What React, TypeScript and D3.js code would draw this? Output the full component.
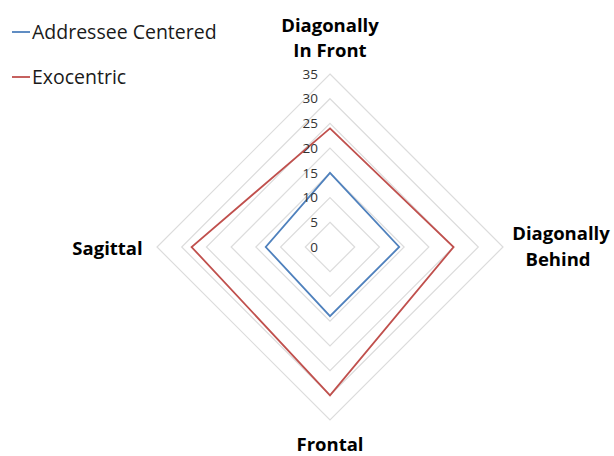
import React from "react";
import * as d3 from "d3";

const axes = ["Diagonally In Front", "Diagonally Behind", "Frontal", "Sagittal"];
const addresseeCentered = [15, 14, 14, 13];
const exocentric = [24, 25, 30, 28];
const ticks = [0, 5, 10, 15, 20, 25, 30, 35];
const seriesNames = ["Addressee Centered", "Exocentric"];
const seriesColors = ["#4f81bd", "#c0504d"];

const W = 614, H = 456;
const cx = 330, cy = 247, R = 173;
const font = "'Open Sans', sans-serif";

export default function App() {
  const r = d3.scaleLinear().domain([0, 35]).range([0, R]);
  const angle = d3.scaleLinear().domain([0, axes.length]).range([0, 2 * Math.PI]);
  const line = d3
    .lineRadial<number>()
    .angle((_, i) => angle(i))
    .radius((d) => r(d))
    .curve(d3.curveLinearClosed);
  const series = [addresseeCentered, exocentric];
  const ring = (v: number) => line(axes.map(() => v)) as string;

  return (
    <svg width={W} height={H} style={{ position: "absolute", left: 0, top: 0, background: "#fff" }}>
      <g transform={`translate(${cx},${cy})`}>
        {ticks.slice(1).map((t) => (
          <path key={t} d={ring(t)} fill="none" stroke="#dcdcdc" strokeWidth={1.2} />
        ))}
        {series.map((s, i) => (
          <path key={i} d={line(s) as string} fill="none" stroke={seriesColors[i]} strokeWidth={1.8} />
        ))}
        {ticks.map((t) => (
          <text key={t} x={-12} y={-r(t)} dy="0.35em" textAnchor="end" fontFamily={font} fontSize={13.5} fill="#333">
            {t}
          </text>
        ))}
      </g>
      <g fontFamily={font} fontWeight="bold" fontSize={18.5} fill="#000" textAnchor="middle">
        <text x={330} y={32}>Diagonally</text>
        <text x={330} y={57}>In Front</text>
        <text x={561} y={240}>Diagonally</text>
        <text x={558} y={266}>Behind</text>
        <text x={330} y={451}>Frontal</text>
        <text x={107.5} y={255}>Sagittal</text>
      </g>
      <g fontFamily={font} fontSize={19.5} fill="#1a1a1a">
        {seriesNames.map((n, i) => (
          <g key={n} transform={`translate(0,${32 + i * 45})`}>
            <line x1={12} x2={30} y1={0} y2={0} stroke={seriesColors[i]} strokeWidth={1.8} />
            <text x={32} y={6.5}>{n}</text>
          </g>
        ))}
      </g>
    </svg>
  );
}
